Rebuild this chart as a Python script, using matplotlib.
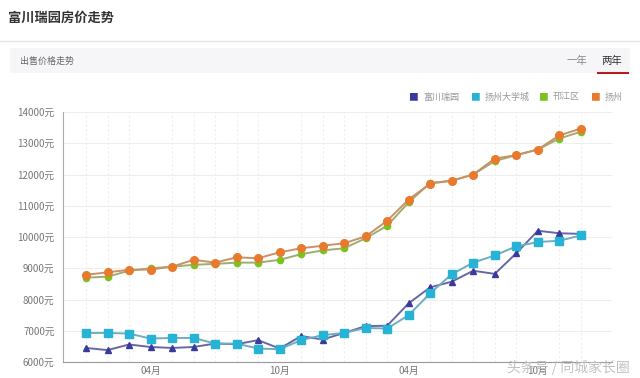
import matplotlib
matplotlib.use('Agg')
import matplotlib.pyplot as plt
from matplotlib.patches import Rectangle
from matplotlib.lines import Line2D

plt.rcParams['font.family'] = ['Noto Sans CJK SC', 'DejaVu Sans']

# 24 months, Jan of year 1 .. Dec of year 2
months = list(range(24))
tick_pos = [3, 9, 15, 21]
tick_labels = ['04月', '10月', '04月', '10月']
yticks = [6000, 7000, 8000, 9000, 10000, 11000, 12000, 13000, 14000]

names = ['富川瑞园', '扬州大学城', '邗江区', '扬州']

fuchuan = [6450, 6380, 6560, 6480, 6450, 6480, 6590, 6570, 6700, 6430, 6830, 6720,
           6930, 7150, 7160, 7880, 8390, 8570, 8920, 8820, 9480, 10200, 10120, 10100]
daxuecheng = [6930, 6930, 6910, 6750, 6770, 6770, 6590, 6590, 6430, 6410, 6700, 6860,
              6930, 7090, 7070, 7500, 8200, 8810, 9180, 9410, 9700, 9840, 9880, 10050]
hanjiang = [8700, 8730, 8920, 9000, 9050, 9110, 9140, 9180, 9180, 9270, 9450, 9570,
            9640, 9960, 10360, 11110, 11730, 11800, 12000, 12430, 12620, 12800, 13150, 13370]
yangzhou = [8790, 8870, 8950, 8960, 9050, 9270, 9180, 9350, 9320, 9510, 9640, 9720,
            9800, 10020, 10520, 11200, 11710, 11800, 12000, 12510, 12620, 12800, 13250, 13470]

series = [fuchuan, daxuecheng, hanjiang, yangzhou]
marker_colors = ['#3a3a9c', '#27b3d6', '#7cc21e', '#e9792c']
line_colors = ['#6767a8', '#6eaebe', '#a0ac72', '#c99266']
markers = ['^', 's', 'o', 'o']
msizes = [5, 5.5, 4.5, 5.5]

fig = plt.figure(figsize=(6.4, 3.78), dpi=100)

# header
fig.text(8 / 640, 1 - 18 / 378, '富川瑞园房价走势', fontsize=9.5, fontweight='bold',
         color='#333333', va='center', ha='left')
fig.add_artist(Line2D([0, 1], [1 - 41 / 378, 1 - 41 / 378], color='#e6e6e6', lw=1))
fig.add_artist(Rectangle((10 / 640, 1 - 73 / 378), 620 / 640, 25 / 378,
                         facecolor='#f6f6f8', edgecolor='none'))
fig.text(20 / 640, 1 - 61 / 378, '出售价格走势', fontsize=6.5, color='#666666',
         va='center', ha='left')
fig.text(577 / 640, 1 - 61 / 378, '一年', fontsize=7.5, color='#888888',
         va='center', ha='center')
fig.text(612 / 640, 1 - 61 / 378, '两年', fontsize=7.5, color='#333333',
         va='center', ha='center')
fig.add_artist(Line2D([598 / 640, 628 / 640], [1 - 73 / 378, 1 - 73 / 378],
                      color='#b01e23', lw=1.5))

# legend
leg_x = [413, 475, 543, 595]
for lx, name, c in zip(leg_x, names, marker_colors):
    fig.text(lx / 640, 1 - 97 / 378, '■', fontsize=7, color=c, va='center', ha='center')
    fig.text((lx + 10) / 640, 1 - 97 / 378, name, fontsize=6.5, color='#999999',
             va='center', ha='left')

ax = fig.add_axes([63 / 640, 1 - 362 / 378, 549 / 640, 250 / 378])
for vals, mc, lc, m, ms in zip(series, marker_colors, line_colors, markers, msizes):
    ax.plot(months, vals, color=lc, lw=1.4, marker=m, markersize=ms,
            markerfacecolor=mc, markeredgecolor=mc, zorder=3)

ax.set_xlim(-1.07, 24.45)
ax.set_ylim(6000, 14000)
ax.set_yticks(yticks)
ax.set_yticklabels([f'{v}元' for v in yticks])
ax.set_xticks(tick_pos)
ax.set_xticklabels(tick_labels)
ax.set_xticks(months, minor=True)
ax.tick_params(axis='both', which='both', length=0, labelsize=7, colors='#777777')
ax.tick_params(axis='y', pad=6)
ax.tick_params(axis='x', pad=3)
ax.grid(axis='y', color='#eeeeee', lw=0.8)
ax.grid(axis='x', which='minor', color='#eeeeee', lw=0.8, ls=(0, (2, 2)))
for s in ['top', 'right']:
    ax.spines[s].set_visible(False)
ax.spines['left'].set_color('#aaaaaa')
ax.spines['bottom'].set_color('#999999')

# watermark (sits over the last month label, as in the source screenshot)
fig.text(568 / 640, 1 - 367 / 378, '头条号 / 同城家长圈', fontsize=10, color='#bbbbbb',
         alpha=0.9, va='center', ha='center')

fig.savefig('out.png', dpi=100)
